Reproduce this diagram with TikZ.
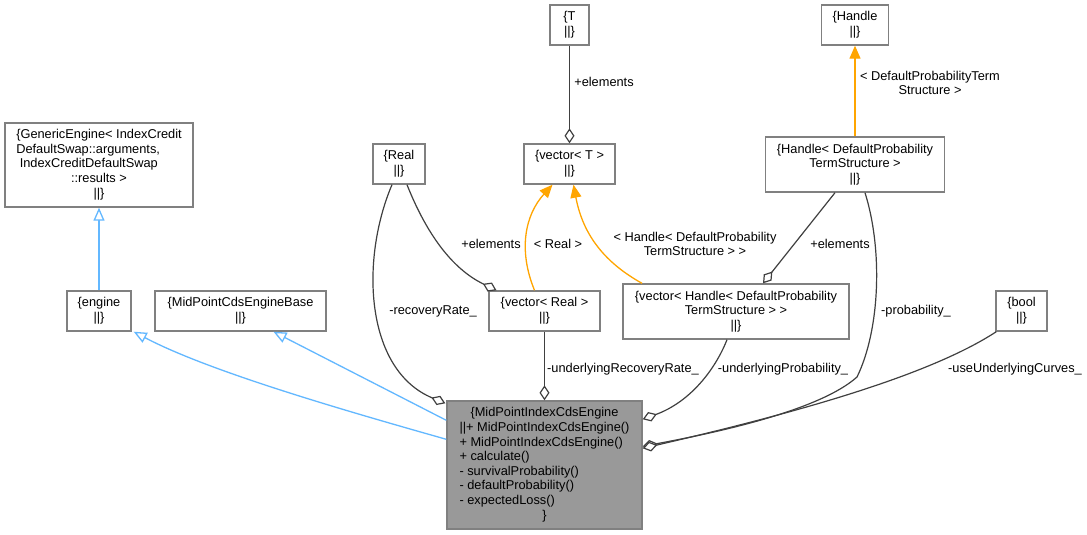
\documentclass[tikz,border=0pt]{standalone}
\usepackage{fontspec}
\setmainfont{Liberation Sans}
\usetikzlibrary{arrows.meta,calc}
\definecolor{boxgray}{HTML}{808080}
\definecolor{edgegray}{HTML}{404040}
\definecolor{inhblue}{HTML}{63B8FF}
\definecolor{tmplorange}{HTML}{FFA500}
\definecolor{mainfill}{HTML}{999999}
\begin{document}
\begin{tikzpicture}[x=1pt,y=-1pt,
 every node/.style={font=\fontsize{12.8}{14.6}\selectfont},
 box/.style={draw=boxgray, line width=1.4pt, fill=white, inner sep=0pt, align=center},
 lbl/.style={inner sep=0pt, align=center},
 agg/.style={draw=edgegray, line width=1.2pt, -{Diamond[fill=white, length=15pt, width=10pt]}},
 inh/.style={draw=inhblue, line width=1.3pt, -{Triangle[fill=white, length=13pt, width=11pt]}},
 tmpl/.style={draw=tmplorange, line width=1.3pt, -{Triangle[fill=tmplorange, length=13pt, width=11pt]}}]
\fill[white] (0,0) rectangle (1087,535);
\useasboundingbox (0,0) rectangle (1087,535);

% nodes
\node[box, minimum width=188, minimum height=84] (gen) at (99,165)
 {\begin{tabular}{@{}l@{}}\{GenericEngine< IndexCredit\\DefaultSwap::arguments,\\\hspace{3.5pt}IndexCreditDefaultSwap\\\multicolumn{1}{@{}c@{}}{::results >}\\\multicolumn{1}{@{}c@{}}{||\}}\end{tabular}};
\node[box, minimum width=64, minimum height=40] (engine) at (99,311) {\{engine\\||\}};
\node[box, minimum width=171, minimum height=40] (base) at (240.5,311) {\{MidPointCdsEngineBase\\||\}};
\node[box, minimum width=52, minimum height=40] (real) at (399,164) {\{Real\\||\}};
\node[box, minimum width=39, minimum height=40] (T) at (569.5,25) {\{T\\||\}};
\node[box, minimum width=91, minimum height=40] (vecT) at (569.5,164) {\{vector< T >\\||\}};
\node[box, minimum width=111, minimum height=40] (vecreal) at (544.5,311) {\{vector< Real >\\||\}};
\node[box, minimum width=226, minimum height=55] (vecH) at (736,311.5) {\{vector< Handle< DefaultProbability\\TermStructure > >\\||\}};
\node[box, minimum width=179, minimum height=55] (hdpts) at (855,164.5) {\{Handle< DefaultProbability\\TermStructure >\\||\}};
\node[box, minimum width=67, minimum height=40] (handle) at (855,25) {\{Handle\\||\}};
\node[box, minimum width=51, minimum height=40] (bool) at (1021.5,311) {\{bool\\||\}};
\node[box, fill=mainfill, minimum width=195, minimum height=128] (main) at (544.5,465)
 {\begin{tabular}{@{}l@{}}\multicolumn{1}{@{}c@{}}{\{MidPointIndexCdsEngine}\\||+ MidPointIndexCdsEngine()\\+ MidPointIndexCdsEngine()\\+ calculate()\\- survivalProbability()\\- defaultProbability()\\- expectedLoss()\\\multicolumn{1}{@{}c@{}}{\}}\end{tabular}};

% inheritance
\draw[inh] (engine.north) -- (gen.south);
\draw[inh] ($(main.north west)+(0,39)$) .. controls (350,412) and (210,372) .. ($(engine.south east)+(2,0)$);
\draw[inh] ($(main.north west)+(0,20)$) -- ($(base.south)+(33,0)$);

% template
\draw[tmpl] (hdpts.north) -- (handle.south);
\draw[tmpl] ($(vecreal.north)+(-10,0)$) .. controls (518,250) and (525,215) .. ($(vecT.south)+(-17,0)$);
\draw[tmpl] ($(vecH.north)+(-94,0)$) .. controls (600,260) and (582,230) .. ($(vecT.south)+(4,0)$);

% aggregation
\draw[agg] (T.south) -- (vecT.north);
\draw[agg] ($(real.south)+(-7,0)$) .. controls (360,260) and (365,370) .. ($(main.north west)+(-1,3)$);
\draw[agg] ($(real.south)+(8,0)$) .. controls (425,230) and (450,268) .. ($(vecreal.north)+(-48,0)$);
\draw[agg] ($(hdpts.south)+(-20,0)$) -- ($(vecH.north)+(27,0)$);
\draw[agg] (vecreal.south) -- (main.north);
\draw[agg] ($(vecH.south)+(-9,0)$) .. controls (715,370) and (690,402) .. ($(main.north east)+(0,19)$);
\draw[agg] ($(hdpts.south)+(10,0)$) .. controls (883,250) and (880,330) .. (857,377) .. controls (820,410) and (720,432) .. ($(main.north east)+(0,46)$);
\draw[agg] ($(bool.south west)+(1,0)$) .. controls (930,375) and (800,412) .. ($(main.north east)+(0,48)$);

% labels
\node[lbl] (lT) at (604,82) {+elements};
\node[lbl] (lH) at (930,83) {< DefaultProbabilityTerm\\Structure >};
\node[lbl] (lRe) at (491,244) {+elements};
\node[lbl] (lRR) at (558,244) {< Real >};
\node[lbl] (lVH) at (695,244) {< Handle< DefaultProbability\\TermStructure > >};
\node[lbl] (lHe) at (840,244) {+elements};
\node[lbl] (lrec) at (433,311) {-recoveryRate\_};
\node[lbl] (lprob) at (916,311) {-probability\_};
\node[lbl] (lurr) at (623,369) {-underlyingRecoveryRate\_};
\node[lbl] (lup) at (783,369) {-underlyingProbability\_};
\node[lbl] (luuc) at (1015,369) {-useUnderlyingCurves\_};
\end{tikzpicture}
\end{document}
